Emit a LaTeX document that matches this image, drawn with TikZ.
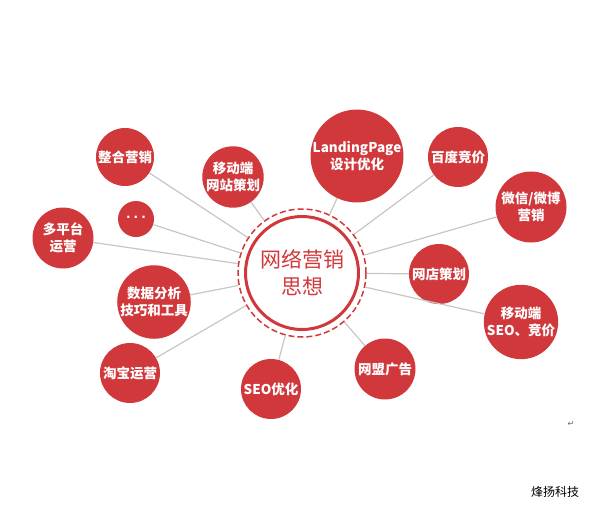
\documentclass[tikz,border=0pt]{standalone}
\usepackage{fontspec}
\newfontfamily\cjk{Noto Sans CJK SC}
\newfontfamily\symfont{DejaVu Sans}
\definecolor{netred}{HTML}{D1383B}
\definecolor{linegray}{HTML}{C6C6C6}
\begin{document}
\begin{tikzpicture}[x=1pt,y=-1pt]
\path[use as bounding box] (0,0) rectangle (591,506);

\tikzstyle{every node}+=[inner sep=0pt]
\tikzstyle{sat}=[circle,fill=netred,text=white,align=center,
  font=\cjk\bfseries\fontsize{13.5}{16.5}\selectfont]
\tikzstyle{spoke}=[linegray,line width=1.2pt]

% hub
\node[circle,draw=netred,dash pattern=on 6pt off 3pt,line width=1.5pt,
  minimum size=128pt] (hub) at (302,273) {};
\node[circle,draw=netred,line width=3pt,minimum size=113pt,text=netred,
  align=center,font=\cjk\fontsize{21}{27}\selectfont] (core) at (hub) {网络营销\\思想};

% satellites
\node[sat,minimum size=58pt] (zhenghe) at (125,157) {整合营销};
\node[sat,minimum size=60pt] (mobsite) at (233,177) {移动端\\网站策划};
\node[sat,minimum size=36pt,font=\symfont\bfseries\fontsize{12}{13}\selectfont] (more) at (136,219) {·\hspace{3pt}·\hspace{3pt}·};
\node[sat,minimum size=61pt] (multi) at (63,238) {多平台\\运营};
\node[sat,minimum size=80pt] (landing) at (357,156) {LandingPage\\设计优化};
\node[sat,minimum size=60pt] (baidu) at (458,157) {百度竞价};
\node[sat,minimum size=71pt] (weixin) at (531,207) {微信/微博\\营销};
\node[sat,minimum size=60pt] (shop) at (439,274) {网店策划};
\node[sat,minimum size=72pt] (mobseo) at (521,322) {移动端\\SEO、竞价};
\node[sat,minimum size=61pt] (union) at (385,369) {网盟广告};
\node[sat,minimum size=60pt] (seo) at (271,389) {SEO优化};
\node[sat,minimum size=60pt] (taobao) at (130,373) {淘宝运营};
\node[sat,minimum size=72pt] (data) at (154,302) {数据分析\\技巧和工具};

% spokes
\foreach \s in {zhenghe,mobsite,more,multi,landing,baidu,weixin,shop,mobseo,union,seo,taobao,data}
  \draw[spoke] (hub) -- (\s);

% marks
\node[text=gray!80!black,font=\symfont\fontsize{8}{9}\selectfont] (ret) at (571,424) {↵};
\node[font=\cjk\fontsize{12}{14}\selectfont] (brand) at (555,492) {烽扬科技};
\end{tikzpicture}
\end{document}
